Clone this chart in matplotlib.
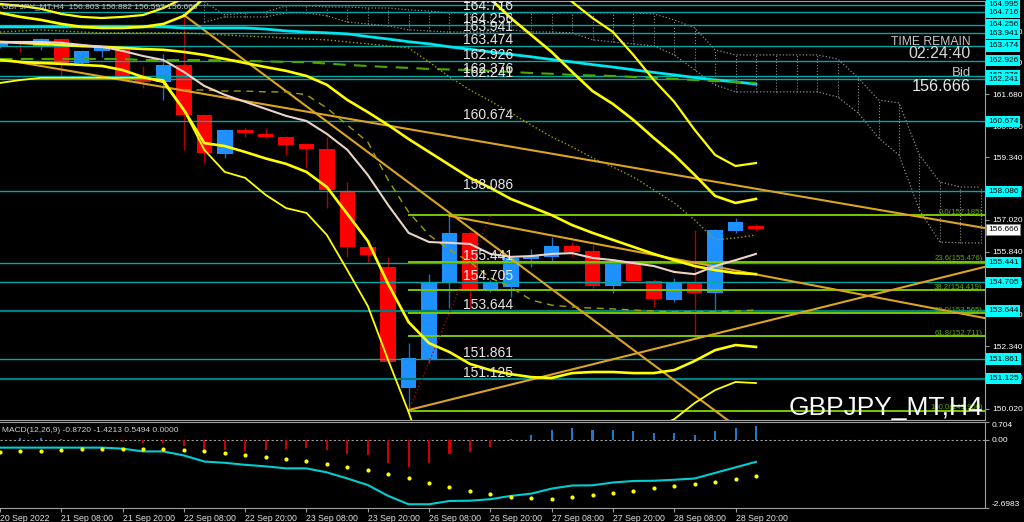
import numpy as np
import matplotlib.pyplot as plt

plt.rcParams['font.family'] = ['Liberation Sans', 'DejaVu Sans']

# -----------------------------
# GBPJPY H4 candles, 20 Sep 20:00 -> 29 Sep 00:00
# -----------------------------
opens = [163.44, 163.62, 163.44, 163.73, 162.84, 163.29, 163.33, 162.21, 162.14, 162.77,
         160.91, 159.47, 160.36, 160.21, 160.10, 159.84, 159.65, 158.09, 156.02, 155.27,
         150.79, 151.86, 154.68, 156.54, 154.42, 154.53, 155.57, 155.63, 156.05, 155.87,
         154.57, 155.42, 154.76, 154.05, 154.68, 154.31, 156.61, 156.803]
highs = [163.66, 163.66, 163.76, 163.76, 163.32, 163.47, 163.40, 162.73, 163.18, 164.62,
         160.95, 160.40, 160.42, 160.43, 160.12, 159.88, 160.10, 158.43, 156.09, 155.65,
         152.46, 155.02, 157.17, 156.60, 154.80, 155.65, 155.94, 156.39, 156.20, 156.09,
         155.50, 155.45, 154.83, 154.87, 156.65, 156.70, 157.09, 156.882]
lows = [163.40, 163.25, 163.33, 162.29, 162.80, 163.07, 162.30, 161.92, 161.47, 159.62,
        159.13, 159.32, 160.10, 160.05, 159.43, 158.95, 157.46, 155.65, 155.46, 151.73,
        149.97, 151.72, 153.75, 153.72, 154.35, 154.16, 155.28, 155.42, 155.65, 154.50,
        154.31, 154.70, 153.79, 153.98, 152.61, 153.57, 156.55, 156.593]
closes = [163.62, 163.58, 163.73, 162.84, 163.29, 163.44, 162.36, 162.14, 162.77, 160.91,
          159.50, 160.36, 160.25, 160.10, 159.80, 159.65, 158.13, 156.02, 155.72, 151.75,
          151.90, 154.72, 156.54, 154.42, 154.72, 155.61, 155.68, 156.05, 155.83, 154.57,
          155.46, 154.76, 154.09, 154.69, 154.31, 156.65, 156.95, 156.666]

date_ticks = [0, 3, 6, 9, 12, 15, 18, 21, 24, 27, 30, 33, 36]
date_labels = ['20 Sep 2022', '21 Sep 08:00', '21 Sep 20:00', '22 Sep 08:00', '22 Sep 20:00',
               '23 Sep 08:00', '23 Sep 20:00', '26 Sep 08:00', '26 Sep 20:00', '27 Sep 08:00',
               '27 Sep 20:00', '28 Sep 08:00', '28 Sep 20:00']

# -----------------------------
# indicator lines (one value per candle)
# -----------------------------
bb_mid = [163.62, 163.59, 163.55, 163.51, 163.47, 163.44, 163.40, 163.36, 163.33, 163.25,
          163.14, 162.99, 162.84, 162.69, 162.55, 162.36, 162.03, 161.47, 161.02, 160.54,
          160.02, 159.54, 159.06, 158.58, 158.21, 157.80, 157.50, 157.20, 156.83, 156.54,
          156.28, 156.02, 155.76, 155.53, 155.31, 155.16, 155.05, 155.01]
bb_up2 = [164.70, 164.55, 164.44, 164.29, 164.18, 164.14, 164.14, 164.18, 164.29, 164.59,
          165.25, 166.11, 166.18, 166.22, 166.29, 166.29, 166.29, 166.29, 166.37, 166.66,
          166.85, 166.66, 166.29, 165.74, 165.22, 164.51, 163.88, 163.25, 162.51, 161.80,
          161.32, 160.73, 160.06, 159.43, 158.69, 157.91, 157.65, 157.80]
bb_up3 = [165.03, 164.96, 164.85, 164.66, 164.55, 164.51, 164.55, 164.62, 164.88, 165.25,
          166.29, 167.41, 167.78, 167.96, 168.15, 168.33, 168.52, 168.89, 169.63, 170.75,
          171.86, 171.49, 170.75, 169.63, 168.52, 167.41, 166.48, 165.74, 165.11, 164.51,
          163.99, 163.14, 162.21, 161.40, 160.36, 159.43, 159.02, 159.13]
bb_lo2 = [162.95, 162.88, 162.84, 162.81, 162.77, 162.73, 162.58, 162.32, 162.14, 161.10,
          159.87, 159.76, 159.54, 159.30, 159.10, 158.80, 158.24, 157.24, 156.24, 154.64,
          153.23, 152.45, 152.12, 151.68, 151.45, 151.30, 151.19, 151.16, 151.34, 151.38,
          151.38, 151.34, 151.34, 151.45, 151.79, 152.19, 152.38, 152.31]
bb_lo3 = [162.10, 162.21, 162.29, 162.29, 162.29, 162.29, 162.29, 162.29, 162.21, 161.10,
          159.62, 158.80, 158.58, 157.95, 157.46, 157.28, 156.46, 155.16, 153.83, 151.82,
          149.89, 147.74, 147.45, 147.52, 147.89, 148.19, 148.52, 148.67, 148.56, 148.56,
          148.56, 148.89, 149.30, 149.63, 150.23, 150.71, 151.01, 150.97]
ma_fast = [163.62, 163.62, 163.62, 163.59, 163.51, 163.44, 163.29, 163.10, 162.95, 162.51,
           161.99, 161.66, 161.40, 161.14, 160.88, 160.69, 160.21, 159.62, 158.69, 157.57,
           156.54, 156.20, 156.17, 156.13, 155.76, 155.65, 155.68, 155.76, 155.79, 155.61,
           155.53, 155.42, 155.31, 155.09, 155.01, 155.31, 155.53, 155.76]
ma_slow = [164.18] * 9 + [164.14] * 4 + [
           164.10, 164.03, 163.99, 163.96, 163.92, 163.82, 163.73, 163.63, 163.55, 163.44,
           163.35, 163.25, 163.16, 163.07, 162.97, 162.88, 162.78, 162.69, 162.59, 162.49,
           162.40, 162.30, 162.21, 162.14, 162.06]
ma_green = [162.99] * 7 + [162.95] * 4 + [
            162.94, 162.92, 162.90, 162.88, 162.87, 162.82, 162.77, 162.73, 162.69, 162.66,
            162.62, 162.60, 162.58, 162.55, 162.51, 162.47, 162.44, 162.40, 162.38, 162.36,
            162.32, 162.29, 162.25, 162.21, 162.17, 162.14, 162.10]
olive_dot = [163.99, 164.03, 164.07, 164.03, 163.99, 163.96, 163.96, 163.96, 163.96, 163.96,
             163.92, 163.88, 163.84, 163.81, 163.77, 163.73, 163.70, 163.62, 163.55, 163.47,
             163.40, 162.88, 162.32, 161.84, 161.43, 160.99, 160.54, 160.10, 159.73, 159.32,
             158.98, 158.61, 158.13, 157.65, 157.02, 156.28, 156.35, 156.46]
kijun_start = 9
kijun = [161.84, 161.84, 161.80, 161.80, 161.77, 161.77, 161.66, 161.17, 160.54, 159.91,
         158.50, 157.31, 156.46, 155.91, 155.46, 154.87, 154.53, 154.05, 153.86, 153.79,
         153.75, 153.72, 153.68, 153.64, 153.61, 153.61, 153.61, 153.64, 153.68]

# cloud (shifted forward), from candle 10 to 48
cloud_start = 10
span_a = [165.11, 164.62, 164.70, 164.73, 164.96, 164.96, 164.92, 164.92, 164.88, 164.88,
          164.81, 164.77, 164.70, 164.70, 164.70, 164.70, 164.70, 164.70, 164.70, 164.70,
          164.70, 164.70, 164.66, 164.44, 164.14, 163.33, 163.14, 163.14, 163.14, 163.14,
          163.14, 162.99, 162.29, 161.47, 161.36, 159.43, 158.43, 158.24, 158.24]
span_b = [164.36, 164.55, 164.55, 164.55, 164.70, 164.70, 164.59, 164.36, 164.29, 164.22,
          164.07, 164.03, 163.99, 163.99, 163.99, 164.07, 163.99, 163.99, 163.96, 163.70,
          163.62, 163.55, 163.47, 163.14, 162.58, 162.03, 161.77, 161.77, 161.77, 161.77,
          161.77, 161.58, 160.99, 160.06, 159.43, 157.39, 156.20, 156.17, 156.17]

# horizontal levels, fibonacci, trend lines
levels = [164.995, 164.716, 164.256, 163.941, 163.474, 162.926, 162.376, 162.241,
          160.674, 158.086, 155.441, 154.705, 153.644, 151.861, 151.125]
price_ticks = [164.020, 162.860, 161.680, 160.500, 159.340, 158.180, 157.020,
               155.840, 154.680, 153.520, 152.340, 151.180, 150.020]
fib_pct = [0.0, 23.6, 38.2, 50.0, 61.8, 100.0]
fib_lvl = [157.185, 155.476, 154.419, 153.565, 152.711, 149.950]
fib_anchor = [(20, 149.950), (24, 157.185)]
trend_lines = [((0, 162.99), (48.2, 156.72)),
               ((9, 164.62), (36, 149.38)),
               ((22, 157.17), (48.2, 153.38)),
               ((20, 149.97), (48.2, 155.28))]
bid = 156.666

# -----------------------------
# MACD(12,26,9)
# -----------------------------
macd_hist = [0.0, 0.09, 0.09, 0.04, 0.0, 0.0, -0.07, -0.13, -0.13, -0.23,
             -0.40, -0.40, -0.43, -0.40, -0.37, -0.33, -0.40, -0.56, -0.60, -0.93,
             -1.07, -0.91, -0.57, -0.47, -0.27, 0.05, 0.20, 0.40, 0.47, 0.40,
             0.40, 0.36, 0.27, 0.27, 0.20, 0.36, 0.47, 0.5494]
macd_line = [-0.31, -0.31, -0.31, -0.31, -0.31, -0.31, -0.35, -0.46, -0.46, -0.62,
             -0.86, -0.91, -0.99, -1.05, -1.13, -1.13, -1.29, -1.53, -1.79, -2.22,
             -2.55, -2.55, -2.42, -2.41, -2.35, -2.22, -2.13, -1.93, -1.81, -1.80,
             -1.69, -1.63, -1.62, -1.58, -1.53, -1.31, -1.09, -0.872]
macd_signal = [-0.49, -0.45, -0.43, -0.41, -0.37, -0.35, -0.35, -0.38, -0.38, -0.41,
               -0.46, -0.54, -0.61, -0.69, -0.77, -0.83, -0.94, -1.06, -1.19, -1.35,
               -1.53, -1.71, -1.87, -2.02, -2.14, -2.25, -2.29, -2.33, -2.26, -2.19,
               -2.09, -2.01, -1.90, -1.83, -1.75, -1.65, -1.54, -1.4213]

# -----------------------------
# figure
# -----------------------------
W, H = 1024, 522
fig = plt.figure(figsize=(W / 100, H / 100), dpi=100, facecolor='black')
ax = fig.add_axes([0, 102 / H, 985 / W, 419 / H], facecolor='black')
ax2 = fig.add_axes([0, 14 / H, 985 / W, 86 / H], facecolor='black', sharex=ax)

x = np.arange(len(opens))
o, h, l, c = map(np.array, (opens, highs, lows, closes))
up = c >= o

# cloud: dotted outline + dotted hatch
xc = np.arange(cloud_start, cloud_start + len(span_a))
ax.plot(xc, span_a, color='#8C8C8C', ls=':', lw=0.9, zorder=1)
ax.plot(xc, span_b, color='#8C8C8C', ls=':', lw=0.9, zorder=1)
ax.vlines(xc, span_b, span_a, color='#8C8C8C', linestyles=':', lw=0.8, zorder=1)

# candles
wick_col = np.where(up, '#1C6FC4', '#B00000')
body_col = np.where(up, '#1E90FF', '#FF0000')
ax.vlines(x, l, h, color=wick_col, lw=1.0, zorder=2)
body_lo = np.minimum(o, c)
body_h = np.maximum(np.abs(c - o), 0.04)
ax.bar(x, body_h, bottom=body_lo, width=0.76, color=body_col, zorder=2.1)

# horizontal levels
for lv in levels:
    dark = lv in (153.644, 151.125)
    ax.axhline(lv, color='#007F7F' if dark else '#00A8A8', lw=1.6 if dark else 1.0, zorder=3)
    ax.text(22.66, lv + 0.08, f'{lv:.3f}', color='#E8E8E8', fontsize=10,
            va='baseline', ha='left', zorder=9, clip_on=True)

# fibonacci
for pct, lv in zip(fib_pct, fib_lvl):
    ax.plot([fib_anchor[0][0], 48.3], [lv, lv], color='#78C800', lw=1.4, zorder=3.2)
    ax.text(48.1, lv + 0.05, f'{pct:.1f}({lv:.3f})', color='#5FA800', fontsize=5.6,
            ha='right', va='baseline', zorder=9, clip_on=True)
ax.plot([p[0] for p in fib_anchor], [p[1] for p in fib_anchor], color='#B00000',
        ls=':', lw=1.0, zorder=3.2)

# trend lines
for (x0, y0), (x1, y1) in trend_lines:
    ax.plot([x0, x1], [y0, y1], color='#DAA520', lw=1.5, zorder=3.5)

# moving averages / bands
ax.plot(x, ma_slow, color='#00E5EE', lw=2.0, zorder=4)
ax.plot(x, ma_green, color='#4CA800', lw=1.5, ls=(0, (6, 4)), zorder=4)
ax.plot(x, olive_dot, color='#A0A000', lw=1.0, ls=':', zorder=4)
ax.plot(np.arange(kijun_start, kijun_start + len(kijun)), kijun, color='#A0A000',
        lw=1.0, ls=(0, (5, 4)), zorder=4)
ax.plot(x, bb_up3, color='#FFFF00', lw=1.6, zorder=4.5)
ax.plot(x, bb_lo3, color='#FFFF00', lw=1.3, zorder=4.5)
ax.plot(x, bb_up2, color='#FFFF00', lw=1.9, zorder=4.5)
ax.plot(x, bb_lo2, color='#FFFF00', lw=1.9, zorder=4.5)
ax.plot(x, bb_mid, color='#FFFF00', lw=1.9, zorder=4.5)
ax.plot(x, ma_fast, color='#EBD3C8', lw=1.5, zorder=4.6)

ax.set_xlim(0, 48.21)
ax.set_ylim(149.60, 165.14)

# right price scale
ax.yaxis.tick_right()
ax.set_yticks(price_ticks)
ax.set_yticklabels([f'{t:.3f}' for t in price_ticks])
ax.tick_params(axis='y', colors='#9A9A9A', labelcolor='white', labelsize=6,
               length=3, pad=2)
ax.tick_params(axis='x', bottom=False, labelbottom=False)
for lv in levels:
    ax.text(1.003, lv, f'{lv:.3f}', transform=ax.get_yaxis_transform(), fontsize=6,
            color='black', va='center', ha='left', zorder=10,
            bbox=dict(boxstyle='square,pad=0.25', fc='#00FFFF', ec='none'))
ax.text(1.003, bid, f'{bid:.3f}', transform=ax.get_yaxis_transform(), fontsize=6,
        color='black', va='center', ha='left', zorder=11,
        bbox=dict(boxstyle='square,pad=0.25', fc='white', ec='#808080', lw=0.6))

for sp in ('top', 'bottom', 'right'):
    ax.spines[sp].set_color('#A0A0A0')
ax.spines['left'].set_visible(False)

# -----------------------------
# MACD panel
# -----------------------------
hist_col = ['#1E78D2' if v >= 0 else '#CC0000' for v in macd_hist]
ax2.bar(x, macd_hist, width=0.1, color=hist_col, zorder=2)
ax2.axhline(0, color='#A0A0A0', ls=(0, (2, 2)), lw=0.8, zorder=1)
ax2.plot(x, macd_line, color='#00CED1', lw=1.5, zorder=3)
ax2.scatter(x, macd_signal, s=9, color='#FFFF00', zorder=4, linewidths=0)
ax2.set_ylim(-2.6983, 0.704)

ax2.yaxis.tick_right()
ax2.set_yticks([0.704, 0.0, -2.6983])
ax2.set_yticklabels(['0.704', '0.00', '-2.6983'])
ax2.tick_params(axis='y', colors='#9A9A9A', labelcolor='white', labelsize=6,
                length=3, pad=2)
ylab = ax2.get_yticklabels()
ylab[0].set_va('top')
ylab[2].set_va('bottom')

ax2.set_xticks(date_ticks)
ax2.set_xticklabels(date_labels, ha='left')
ax2.tick_params(axis='x', colors='#9A9A9A', labelcolor='#E0E0E0', labelsize=6.3,
                length=3, pad=1.5)
for sp in ('top', 'bottom', 'right'):
    ax2.spines[sp].set_color('#A0A0A0')
ax2.spines['left'].set_visible(False)

ax2.text(0.002, 0.9, 'MACD(12,26,9) -0.8720 -1.4213 0.5494 0.0000', transform=ax2.transAxes,
         color='#D0D0D0', fontsize=6, va='center', ha='left')

# -----------------------------
# chart texts
# -----------------------------
def fx(px):
    return px / W

def fy(py):
    return 1 - py / H

fig.text(fx(2), fy(3), 'GBPJPY_MT,H4  156.803 156.882 156.593 156.666', color='#C8C8C8',
         fontsize=6, va='top', ha='left')
fig.text(fx(971), fy(45), 'TIME REMAIN', color='#C8C8C8', fontsize=8.7, ha='right', va='baseline')
fig.text(fx(971), fy(58), '02:24:40', color='#D8D8D8', fontsize=11.5, ha='right', va='baseline')
fig.text(fx(971), fy(76), 'Bid', color='#C8C8C8', fontsize=9.5, ha='right', va='baseline')
fig.text(fx(971), fy(91), f'{bid:.3f}', color='#E8E8E8', fontsize=11.7, ha='right', va='baseline')
fig.text(fx(983), fy(415), 'GBPJPY_MT,H4', color='white', fontsize=19, ha='right', va='baseline')

fig.savefig('out.png', dpi=100, facecolor='black')
